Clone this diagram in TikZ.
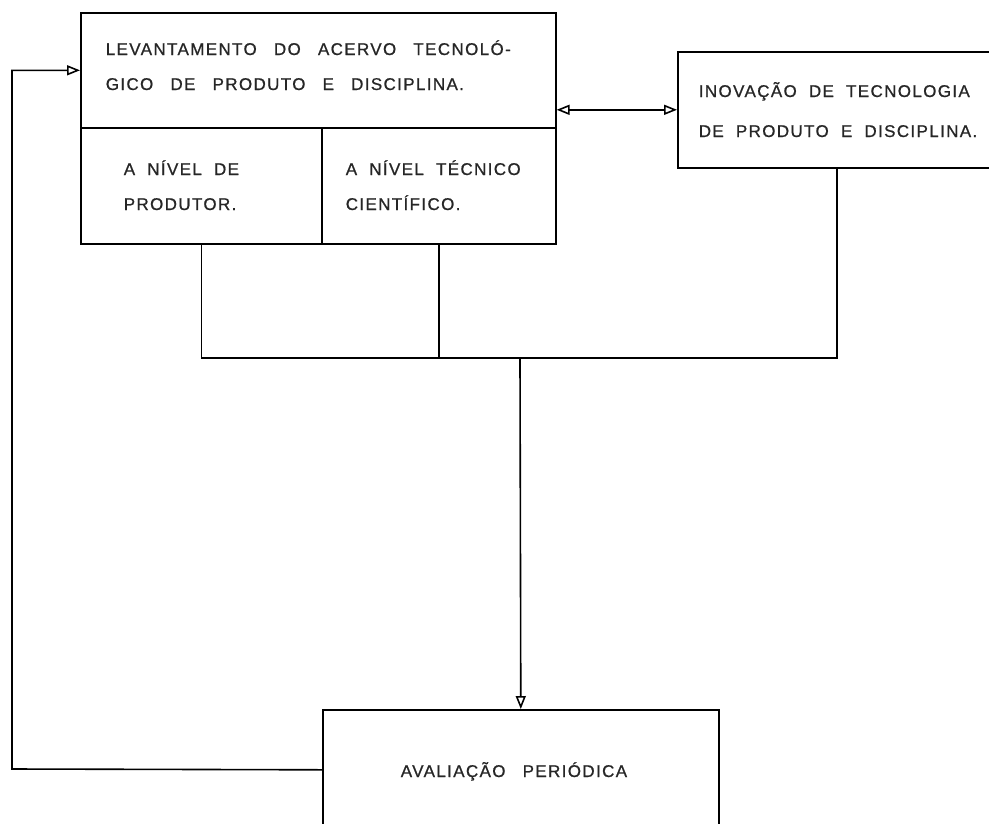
\documentclass[tikz,border=0pt]{standalone}
\usepackage{fontspec}
\newfontfamily\letra[LetterSpace=8,WordSpace=2,FakeBold=0.8]{Liberation Sans}
\newcommand\vao{\hspace{5pt} }
\usetikzlibrary{arrows.meta}

\tikzset{
  caixa/.style={draw, inner sep=0pt, anchor=north west},
  rotulo/.style={anchor=base west, inner sep=0pt, text=black!85, font=\letra\fontsize{17}{20}\selectfont},
  seta/.style={-{Triangle[open,length=13pt,width=10pt]}},
}

\begin{document}
\begin{tikzpicture}[x=1pt,y=-1pt,line width=1.6pt]
  \useasboundingbox (0,0) rectangle (989,823);
  \clip (0,0) rectangle (989,823);
  % caixas
  \node[caixa, minimum width=475, minimum height=115] (acervo) at (80,12) {};
  \node[caixa, minimum width=241, minimum height=116] (produtor) at (80,127) {};
  \node[caixa, minimum width=234, minimum height=116] (tecnico) at (321,127) {};
  \node[caixa, minimum width=318, minimum height=116] (inovacao) at (677,51) {};
  \node[caixa, minimum width=396, minimum height=120] (avaliacao) at (322,709) {};
  % textos
  \node[rotulo] (t1) at (105,55) {LEVANTAMENTO\vao DO\vao ACERVO\vao TECNOLÓ-};
  \node[rotulo] (t2) at (105,90) {GICO\vao DE\vao PRODUTO\vao E\vao DISCIPLINA.};
  \node[rotulo] (t3) at (123,175) {A NÍVEL DE};
  \node[rotulo] (t4) at (123,210) {PRODUTOR.};
  \node[rotulo] (t5) at (345,175) {A NÍVEL TÉCNICO};
  \node[rotulo] (t6) at (345,210) {CIENTÍFICO.};
  \node[rotulo] (t7) at (698,97) {INOVAÇÃO DE TECNOLOGIA};
  \node[rotulo] (t8) at (698,137) {DE PRODUTO E DISCIPLINA.};
  \node[rotulo] (t9) at (400,777) {AVALIAÇÃO\vao PERIÓDICA};
  % ligacoes
  \coordinate (bus) at (520,358);
  \coordinate (volta) at (12,769);
  \draw (produtor.south) |- (bus) -| (inovacao.south);
  \draw (tecnico.south) -- (tecnico.south |- bus);
  \draw[seta] (bus) -- (avaliacao.north);
  \draw[{Triangle[open,length=13pt,width=10pt]}-{Triangle[open,length=13pt,width=10pt]}]
    (inovacao.west -| acervo.east) -- (inovacao.west);
  \draw[seta] (avaliacao.west) -- (volta) |- (acervo.west);
\end{tikzpicture}
\end{document}
